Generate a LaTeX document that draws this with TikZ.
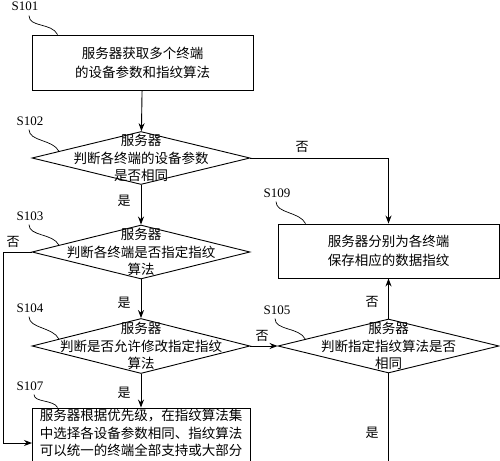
\documentclass[tikz,border=0pt]{standalone}
\usepackage{fontspec}
\setmainfont{Liberation Serif}
\newfontfamily\cjk{Noto Sans CJK SC}
\usetikzlibrary{shapes.geometric,arrows.meta,calc}

\tikzset{
  procbox/.style={draw, line width=0.9pt, inner sep=0pt, font=\cjk\fontsize{13.5}{19}\selectfont, align=center},
  decision/.style={draw, diamond, line width=0.9pt, inner sep=0pt},
  cjktext/.style={font=\cjk\fontsize{13.5}{17.5}\selectfont, align=center, inner sep=0pt},
  steplabel/.style={font=\fontsize{13}{15}\selectfont, inner sep=1pt},
  answer/.style={font=\cjk\fontsize{13}{15}\selectfont, inner sep=0pt},
  leader/.style={line width=0.7pt},
  flow/.style={line width=0.9pt, ->},
  plain/.style={line width=0.9pt},
}

\begin{document}
\begin{tikzpicture}[x=1pt, y=-1pt, >={Stealth[length=8pt,width=6pt]}]
  \clip (0,0) rectangle (500,460);
  % boxes
  \node[procbox, minimum width=221pt, minimum height=55pt] (s101) at (142.5,62.5)
    {服务器获取多个终端\\的设备参数和指纹算法};
  \node[procbox, minimum width=221pt, minimum height=54pt] (s109) at (388.5,251)
    {服务器分别为各终端\\保存相应的数据指纹};
  \node[procbox, minimum width=218pt, minimum height=82pt] (s107) at (141,449) {};
  \node[cjktext, align=left, anchor=north] (t107) at (141,409)
    {服务器根据优先级，在指纹算法集\\中选择各设备参数相同、指纹算法\\可以统一的终端全部支持或大部分};
  % decisions
  \node[decision, minimum width=218pt, minimum height=53pt] (s102) at (141,158) {};
  \node[cjktext] (t102) at (s102) {服务器\\判断各终端的设备参数\\是否相同};
  \node[decision, minimum width=218pt, minimum height=54pt] (s103) at (141,252) {};
  \node[cjktext] (t103) at (s103) {服务器\\判断各终端是否指定指纹\\算法};
  \node[decision, minimum width=218pt, minimum height=55pt] (s104) at (141,346) {};
  \node[cjktext] (t104) at (s104) {服务器\\判断是否允许修改指定指纹\\算法};
  \node[decision, minimum width=221pt, minimum height=54pt] (s105) at (388.5,346) {};
  \node[cjktext] (t105) at (s105) {服务器\\判断指定指纹算法是否\\相同};
  % step labels
  \node[steplabel] (l101) at (25,6) {S101};
  \node[steplabel] (l102) at (30,121) {S102};
  \node[steplabel] (l103) at (30,216) {S103};
  \node[steplabel] (l104) at (30,308) {S104};
  \node[steplabel] (l107) at (30,386) {S107};
  \node[steplabel] (l109) at (277,193) {S109};
  \node[steplabel] (l105) at (277,310) {S105};
  % leaders
  \draw[leader] ([xshift=4pt,yshift=-4pt]l101.south) .. controls +(0,12) and +(-6,-12) .. ([xshift=26pt]s101.north west);
  \draw[leader] ([xshift=-1pt,yshift=-3pt]l102.south) .. controls +(0,12) and +(-6,-12) .. ($(s102.west)!0.25!(s102.north)$);
  \draw[leader] ([xshift=-1pt,yshift=-3pt]l103.south) .. controls +(0,12) and +(-6,-12) .. ($(s103.west)!0.25!(s103.north)$);
  \draw[leader] ([xshift=-1pt,yshift=-3pt]l104.south) .. controls +(0,12) and +(-6,-12) .. ($(s104.west)!0.25!(s104.north)$);
  \draw[leader] ([xshift=4pt,yshift=-3pt]l107.south) .. controls +(0,8) and +(-4,-8) .. ([xshift=26pt]s107.north west);
  \draw[leader] ([xshift=-1pt,yshift=-3pt]l109.south) .. controls +(0,12) and +(-6,-12) .. ([xshift=28pt]s109.north west);
  \draw[leader] ([xshift=-2pt,yshift=-3pt]l105.south) .. controls +(0,12) and +(-6,-12) .. ($(s105.west)!0.25!(s105.north)$);
  % flow
  \coordinate (c103) at (3,252);
  \coordinate (c107) at (3,443);
  \coordinate (j107) at (32,443);
  \coordinate (e105) at (388.5,475);
  \draw[flow] (s101) -- (s102);
  \draw[flow] (s102.east) -| (s109.north);
  \draw[flow] (s102) -- (s103);
  \draw[flow] (s103.west) -- (c103) -- (c107) -- (j107);
  \draw[flow] (s103) -- (s104);
  \draw[flow] (s104.east) -- (s105.west);
  \draw[flow] (s104) -- (s107);
  \draw[flow] (s105.north) -- (s109.south);
  \draw[plain] (s105.south) -- (e105);
  % answers
  \node[answer] (n102) at (302,147) {否};
  \node[answer] (y102) at (124,201) {是};
  \node[answer] (n103) at (13,242) {否};
  \node[answer] (y103) at (124,303) {是};
  \node[answer] (n104) at (262,336) {否};
  \node[answer] (y104) at (124,393) {是};
  \node[answer] (n105) at (372,302) {否};
  \node[answer] (y105) at (372,433) {是};
\end{tikzpicture}
\end{document}
